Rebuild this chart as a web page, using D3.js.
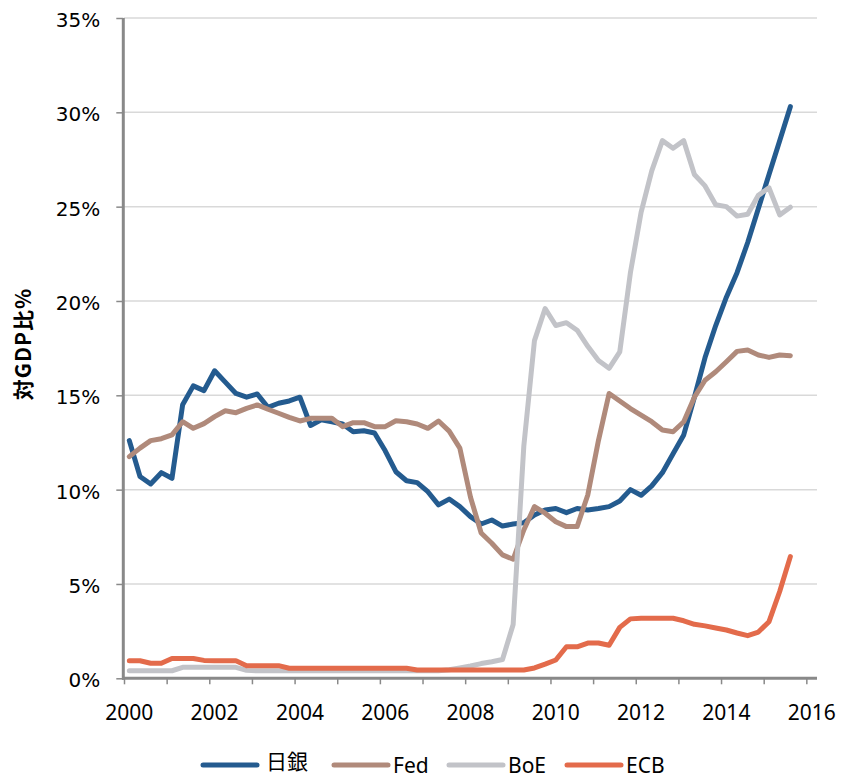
<!DOCTYPE html>
<html>
<head>
<meta charset="utf-8">
<script src="https://cdn.jsdelivr.net/npm/d3@7/dist/d3.min.js"></script>
<style>
	body { margin: 0; background: #fff; }
	svg { display: block; }
</style>
</head>
<body>
<svg id="chart"></svg>
<script>
// quarterly, 2000Q1 .. 2015Q3, % of GDP
var startYear = 2000;
var boj = [
	12.6, 10.7, 10.3, 10.9, 10.6, 14.5, 15.5, 15.25, 16.3, 15.7,
	15.1, 14.9, 15.07, 14.36, 14.58, 14.7, 14.9, 13.4, 13.7, 13.6,
	13.48, 13.07, 13.12, 13.0, 12.06, 10.95, 10.47, 10.37, 9.89, 9.19,
	9.5, 9.1, 8.57, 8.18, 8.39, 8.07, 8.18, 8.25, 8.66, 8.92,
	9.0, 8.78, 9.0, 8.92, 9.0, 9.1, 9.4, 10.0, 9.7, 10.2,
	10.9, 11.9, 12.9, 14.9, 17.0, 18.7, 20.2, 21.5, 23.1, 24.9,
	26.7, 28.5, 30.3
];
var fed = [
	11.75, 12.2, 12.6, 12.7, 12.9, 13.6, 13.25, 13.5, 13.87, 14.18,
	14.08, 14.31, 14.49, 14.26, 14.05, 13.83, 13.64, 13.78, 13.78, 13.78,
	13.34, 13.55, 13.55, 13.34, 13.34, 13.65, 13.6, 13.48, 13.25, 13.64,
	13.1, 12.2, 9.6, 7.7, 7.16, 6.54, 6.31, 7.86, 9.1, 8.75,
	8.3, 8.04, 8.04, 9.72, 12.6, 15.1, 14.7, 14.3, 13.95, 13.6,
	13.16, 13.07, 13.6, 14.9, 15.8, 16.25, 16.78, 17.33, 17.4, 17.14,
	17.01, 17.14, 17.1
];
var boe = [
	0.4, 0.4, 0.4, 0.4, 0.4, 0.58, 0.58, 0.58, 0.58, 0.58,
	0.58, 0.42, 0.4, 0.4, 0.4, 0.4, 0.4, 0.4, 0.4, 0.4,
	0.4, 0.4, 0.4, 0.4, 0.4, 0.4, 0.4, 0.4, 0.4, 0.4,
	0.45, 0.55, 0.65, 0.78, 0.88, 1.0, 2.85, 12.3, 17.9, 19.6,
	18.7, 18.85, 18.45, 17.6, 16.85, 16.43, 17.3, 21.5, 24.7, 26.9,
	28.5, 28.1, 28.5, 26.7, 26.1, 25.1, 25.0, 24.5, 24.6, 25.6,
	26.0, 24.56, 24.97
];
var ecb = [
	0.93, 0.93, 0.8, 0.8, 1.05, 1.05, 1.05, 0.95, 0.93, 0.93,
	0.93, 0.67, 0.67, 0.67, 0.67, 0.53, 0.53, 0.53, 0.53, 0.53,
	0.53, 0.53, 0.53, 0.53, 0.53, 0.53, 0.53, 0.44, 0.44, 0.44,
	0.44, 0.44, 0.44, 0.44, 0.44, 0.44, 0.44, 0.44, 0.55, 0.75,
	0.97, 1.67, 1.67, 1.87, 1.87, 1.75, 2.7, 3.15, 3.18, 3.18,
	3.18, 3.18, 3.05, 2.86, 2.78, 2.67, 2.56, 2.4, 2.26, 2.45,
	3.0, 4.6, 6.45
];
var seriesNames = ['日銀', 'Fed', 'BoE', 'ECB'];
var seriesColors = ['#245b8f', '#b08a7b', '#c2c3c8', '#e36b4b'];
var yTicks = [0, 5, 10, 15, 20, 25, 30, 35];
var xTickYears = d3.range(2000, 2017);
var xLabelYears = [2000, 2002, 2004, 2006, 2008, 2010, 2012, 2014, 2016];
var yTitle = '対GDP比%';

var width = 841, height = 778;
var plot = { left: 124, right: 817, top: 18, bottom: 678.3 };

var svg = d3.select('#chart').attr('width', width).attr('height', height);

var x = d3.scaleLinear().domain([2000, 2016.25]).range([plot.left, plot.right]);
var y = d3.scaleLinear().domain([0, 35]).range([plot.bottom, plot.top]);

// gridlines
svg.append('g').selectAll('line')
	.data(yTicks.filter(function (d) { return d > 0; }))
	.enter().append('line')
	.attr('x1', plot.left).attr('x2', plot.right)
	.attr('y1', y).attr('y2', y)
	.attr('stroke', '#d9d9d9').attr('stroke-width', 1.5);

// y axis
var yAxis = d3.axisLeft(y).tickValues(yTicks).tickSize(7).tickPadding(16)
	.tickFormat(function (d) { return d + '%'; });
var gy = svg.append('g').attr('transform', 'translate(' + (plot.left - 0.7) + ',0)').call(yAxis);
gy.select('.domain').attr('stroke', '#898989').attr('stroke-width', 3)
	.attr('d', 'M0,' + plot.top + 'V' + (plot.bottom + 1.5));
gy.selectAll('.tick line').attr('stroke', '#898989').attr('stroke-width', 1.5);
gy.selectAll('.tick text')
	.attr('font-family', '"DejaVu Sans", Verdana, sans-serif')
	.attr('font-size', 20).attr('fill', '#000').attr('dy', '0.42em');

// x axis
var xAxis = d3.axisBottom(x).tickValues(xTickYears).tickSize(6).tickFormat('');
var gx = svg.append('g').attr('transform', 'translate(0,' + plot.bottom + ')').call(xAxis);
gx.select('.domain').attr('stroke', '#898989').attr('stroke-width', 3)
	.attr('d', 'M' + (plot.left - 2) + ',0H' + plot.right);
gx.selectAll('.tick line').attr('stroke', '#898989').attr('stroke-width', 1.5);

svg.append('g').selectAll('text')
	.data(xLabelYears)
	.enter().append('text')
	.attr('x', function (d) { return x(d + 0.125); })
	.attr('y', 720)
	.attr('text-anchor', 'middle')
	.attr('font-family', '"Noto Sans", "Open Sans", sans-serif')
	.attr('font-size', 21)
	.text(function (d) { return d; });

// y title
svg.append('text')
	.attr('transform', 'translate(31,344) rotate(-90)')
	.attr('text-anchor', 'middle')
	.attr('font-family', '"Noto Sans CJK JP", sans-serif')
	.attr('font-weight', 'bold')
	.attr('font-size', 21)
	.attr('letter-spacing', 1)
	.text(yTitle);

// lines
var line = d3.line()
	.x(function (d, i) { return x(startYear + (i + 0.5) / 4); })
	.y(function (d) { return y(d); });

var allSeries = [boj, fed, boe, ecb];
svg.append('g').selectAll('path')
	.data(allSeries)
	.enter().append('path')
	.attr('d', line)
	.attr('fill', 'none')
	.attr('stroke', function (d, i) { return seriesColors[i]; })
	.attr('stroke-width', 5)
	.attr('stroke-linejoin', 'round')
	.attr('stroke-linecap', 'round');

// legend
var legendX = [203, 334, 449, 567];
var legend = svg.append('g').selectAll('g')
	.data(seriesNames)
	.enter().append('g')
	.attr('transform', function (d, i) { return 'translate(' + legendX[i] + ',765)'; });
legend.append('line')
	.attr('x1', 0).attr('x2', 54)
	.attr('stroke', function (d, i) { return seriesColors[i]; })
	.attr('stroke-width', 5)
	.attr('stroke-linecap', 'round');
legend.append('text')
	.attr('x', function (d, i) { return i === 0 ? 63 : 59; })
	.attr('y', function (d, i) { return i === 0 ? 4 : 8; })
	.attr('font-family', function (d, i) {
		return i === 0 ? '"Noto Sans CJK JP", sans-serif' : '"Noto Sans", sans-serif';
	})
	.attr('font-size', 21)
	.text(function (d) { return d; });
</script>
</body>
</html>
